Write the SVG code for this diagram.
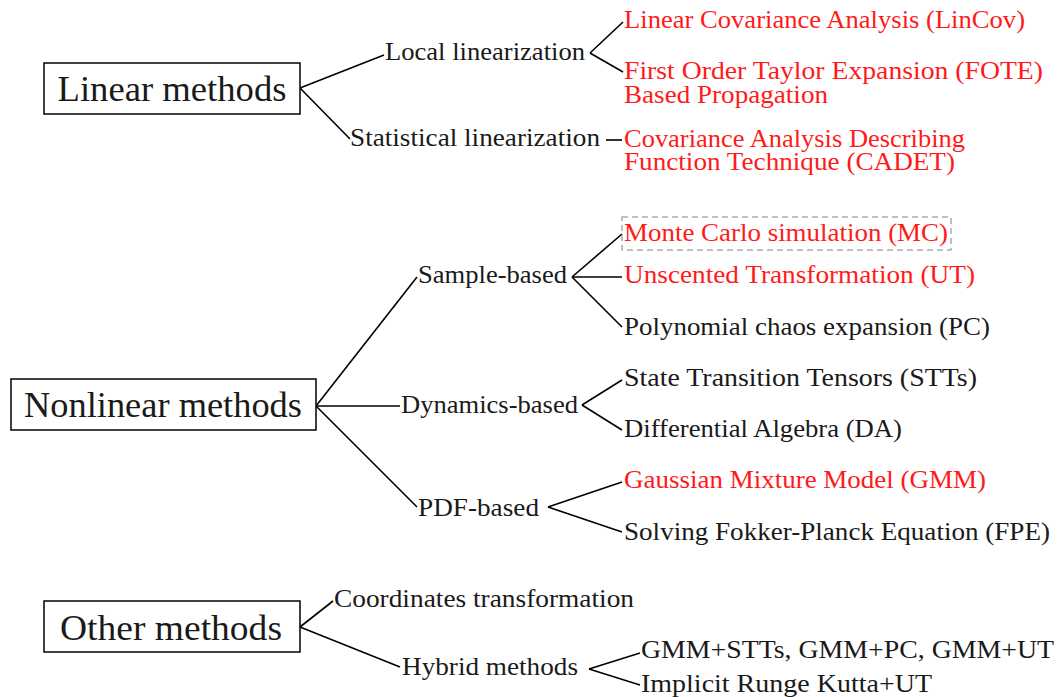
<svg xmlns="http://www.w3.org/2000/svg" width="1061" height="697" viewBox="0 0 1061 697" font-family="'Liberation Serif', 'Times New Roman', serif">
<style>
text{font-family:'Liberation Serif','Times New Roman',serif;fill:#1a1a1a}
.s{font-size:26px}
.b{font-size:36px;text-anchor:middle}
.r{fill:#ff1a1a}
.box{fill:#fff;stroke:#000;stroke-width:1.5}
.c path{fill:none;stroke:#000;stroke-width:1.6}
.dash{fill:none;stroke:#aaa;stroke-width:1.5;stroke-dasharray:6 4}
</style>
<rect width="1061" height="697" fill="#fff"/>
<g class="c" id="connectors">
<path d="M300,88 L384,55"/>
<path d="M300,88 L350,139"/>
<path d="M590,53 L623,22"/>
<path d="M590,53 L623,72"/>
<path d="M606,140 L622,140"/>
<path d="M316,406 L417,277"/>
<path d="M316,406 L400,406"/>
<path d="M316,406 L417,507"/>
<path d="M572,277 L622,234"/>
<path d="M572,277 L622,277"/>
<path d="M572,277 L622,327"/>
<path d="M582,405 L622,380"/>
<path d="M582,405 L622,430"/>
<path d="M548,507 L622,482"/>
<path d="M548,507 L622,532"/>
<path d="M300,627 L333,601"/>
<path d="M300,627 L400,667"/>
<path d="M589,669 L640,653"/>
<path d="M589,669 L640,685"/>
</g>
<g id="linear">
<rect class="box" x="44" y="63" width="256" height="51"/>
<text class="b" x="172" y="101" textLength="229" lengthAdjust="spacingAndGlyphs">Linear methods</text>
</g>
<g id="local"><text class="s" x="385" y="60" textLength="200" lengthAdjust="spacingAndGlyphs">Local linearization</text></g>
<g id="statistical"><text class="s" x="350" y="146" textLength="250" lengthAdjust="spacingAndGlyphs">Statistical linearization</text></g>
<g id="lincov"><text class="s r" x="624" y="28" textLength="401" lengthAdjust="spacingAndGlyphs">Linear Covariance Analysis (LinCov)</text></g>
<g id="fote">
<text class="s r" x="624" y="79" textLength="419" lengthAdjust="spacingAndGlyphs">First Order Taylor Expansion (FOTE)</text>
<text class="s r" x="624" y="103" textLength="204" lengthAdjust="spacingAndGlyphs">Based Propagation</text>
</g>
<g id="cadet">
<text class="s r" x="624" y="147" textLength="341" lengthAdjust="spacingAndGlyphs">Covariance Analysis Describing</text>
<text class="s r" x="624" y="170" textLength="331" lengthAdjust="spacingAndGlyphs">Function Technique (CADET)</text>
</g>
<g id="nonlinear">
<rect class="box" x="11" y="379" width="305" height="51"/>
<text class="b" x="163" y="417" textLength="278" lengthAdjust="spacingAndGlyphs">Nonlinear methods</text>
</g>
<g id="sample"><text class="s" x="418" y="283" textLength="149" lengthAdjust="spacingAndGlyphs">Sample-based</text></g>
<g id="dynamics"><text class="s" x="401" y="413" textLength="177" lengthAdjust="spacingAndGlyphs">Dynamics-based</text></g>
<g id="pdf"><text class="s" x="418" y="516" textLength="121" lengthAdjust="spacingAndGlyphs">PDF-based</text></g>
<g id="mc">
<rect class="dash" x="622" y="217" width="329" height="33"/>
<text class="s r" x="624" y="241" textLength="324" lengthAdjust="spacingAndGlyphs">Monte Carlo simulation (MC)</text>
</g>
<g id="ut"><text class="s r" x="624" y="283" textLength="351" lengthAdjust="spacingAndGlyphs">Unscented Transformation (UT)</text></g>
<g id="pc"><text class="s" x="624" y="335" textLength="366" lengthAdjust="spacingAndGlyphs">Polynomial chaos expansion (PC)</text></g>
<g id="stt"><text class="s" x="624" y="386" textLength="353" lengthAdjust="spacingAndGlyphs">State Transition Tensors (STTs)</text></g>
<g id="da"><text class="s" x="624" y="437" textLength="278" lengthAdjust="spacingAndGlyphs">Differential Algebra (DA)</text></g>
<g id="gmm"><text class="s r" x="624" y="488" textLength="362" lengthAdjust="spacingAndGlyphs">Gaussian Mixture Model (GMM)</text></g>
<g id="fpe"><text class="s" x="624" y="540" textLength="426" lengthAdjust="spacingAndGlyphs">Solving Fokker-Planck Equation (FPE)</text></g>
<g id="other">
<rect class="box" x="44" y="601" width="256" height="51"/>
<text class="b" x="171" y="640" textLength="222" lengthAdjust="spacingAndGlyphs">Other methods</text>
</g>
<g id="coords"><text class="s" x="334" y="607" textLength="300" lengthAdjust="spacingAndGlyphs">Coordinates transformation</text></g>
<g id="hybrid"><text class="s" x="402" y="675" textLength="176" lengthAdjust="spacingAndGlyphs">Hybrid methods</text></g>
<g id="hyb1"><text class="s" x="641" y="658" textLength="413" lengthAdjust="spacingAndGlyphs">GMM+STTs, GMM+PC, GMM+UT</text></g>
<g id="hyb2"><text class="s" x="641" y="692" textLength="291" lengthAdjust="spacingAndGlyphs">Implicit Runge Kutta+UT</text></g>
</svg>
